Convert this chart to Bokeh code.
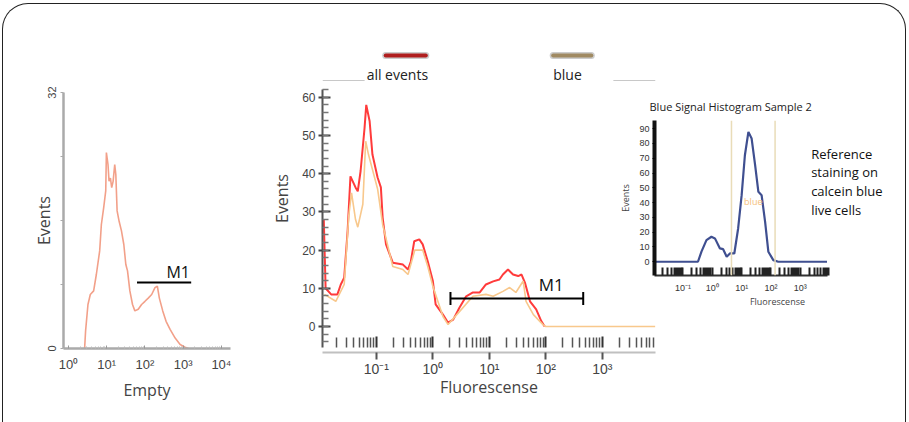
from bokeh.plotting import figure
from bokeh.layouts import row
from bokeh.models import (Range1d, LinearScale, LogAxis, FixedTicker, SingleIntervalTicker, Span,
                          GlobalInlineStyleSheet)
from bokeh.embed import file_html
from bokeh.resources import INLINE
from bokeh.core.properties import value

# ---------------- data ----------------
# left panel "Empty" histogram
empty_x = [2.64, 2.80, 3.23, 3.72, 4.55, 5.35, 6.54, 7.24, 8.33, 9.42, 9.8, 10.8, 11.5, 12.5, 13.5,
           14.7, 16.2, 17.3, 18.7, 21.1, 24.3, 28, 31.6, 35, 40.3, 47.3, 54.5, 66.7, 81.7, 100,
           122, 150, 183, 211, 238, 292, 357, 455, 617, 832, 1122, 1380]
empty_y = [0, 2.2, 5.5, 6.75, 7.2, 9.25, 12.2, 15.5, 17.6, 19.7, 24.5, 23, 20.9, 21.3, 20.1,
           20.9, 23, 21.75, 17.2, 15.9, 14.7, 13, 10.5, 9.7, 7.2, 5.5, 4.7, 4.9, 5.5, 5.9,
           6.3, 6.75, 7.6, 7.8, 6.3, 4.7, 3.4, 2.4, 1.3, 0.5, 0.15, 0]
empty_m1_x = [62, 1620]
empty_m1_y = 8.25
empty_m1_label_x = 740

# middle panel: "all events" and "blue"
all_x = [0.0117, 0.0126, 0.0158, 0.0204, 0.0234, 0.0269, 0.0309, 0.0347, 0.0427, 0.0468,
         0.0525, 0.0617, 0.0661, 0.0759, 0.0851, 0.105, 0.120, 0.129, 0.148, 0.195, 0.295,
         0.363, 0.407, 0.468, 0.575, 0.661, 0.813, 1.0, 1.12, 1.51, 1.86, 2.29, 2.95, 3.89,
         5.13, 6.76, 8.71, 11.7, 15.1, 17.4, 21.4, 26.3, 32.4, 37.2, 42.7, 52.5, 67.6, 83.2, 95.5]
all_y = [28, 10, 8.4, 8.4, 11, 12.8, 25, 39.3, 36.4, 35.4, 40.7, 52, 58, 53.7, 45, 39, 36.4,
         28.5, 21.5, 16.7, 16.2, 14.9, 17, 22.3, 22.8, 21.5, 17, 11.9, 5.8, 3.1, 1, 1.8, 4.9,
         7.9, 8.9, 8.9, 11, 11.8, 12.3, 13.6, 14.9, 13.6, 13.2, 13.6, 11.5, 6.6, 4.5, 1.4, 0]
blue_x = [0.0120, 0.0191, 0.0269, 0.0324, 0.0363, 0.0427, 0.0468, 0.0575, 0.0646, 0.0724,
          0.105, 0.129, 0.195, 0.295, 0.363, 0.479, 0.661, 0.813, 1.0, 1.51, 1.86, 2.88, 5.13,
          8.71, 11.7, 17.4, 22.9, 29.5, 39.8, 44.7, 60.3, 89.1, 100, 8700]
blue_y = [8.4, 6.6, 11, 29, 35, 28, 26, 32, 48.5, 45, 36, 26.7, 15.7, 14.9, 13.6, 20, 20, 15.7,
          10.5, 2.6, 0.5, 3.7, 7.9, 8.4, 7.9, 9.2, 10.2, 8.9, 11.9, 6.6, 3.1, 0.5, 0, 0]
mid_m1_x = [2.05, 460]
mid_m1_y = 7.3
mid_m1_label_x = 125
series_names = ["all events", "blue"]
series_colors = ["#ff3b3b", "#f8c88c"]
swatch_colors = ["#b01e1e", "#a08a62"]

# inset: blue signal histogram sample 2
ref_x = [0.0107, 0.324, 0.427, 0.631, 0.933, 1.23, 1.82, 2.34, 3.09, 3.98, 5.62, 7.59, 10.0,
         12.9, 17.0, 21.9, 28.8, 37.2, 47.9, 63.1, 81.3, 120, 178, 8130]
ref_y = [0, 0, 6.8, 14.6, 16.9, 15.8, 9, 8.5, 3.4, 5.6, 5.6, 22.5, 45, 72, 87.8, 83.3, 65.3,
         47.3, 45, 27, 6.8, 1.1, 0, 0]
ref_gate = [4.5, 138]
ref_gate_label = "blue"

decades_left = [1, 10, 100, 1000, 10000]
decades_mid = [0.1, 1, 10, 100, 1000]
sup = {0.1: "10\u207b\u00b9", 1: "10\u2070", 10: "10\u00b9", 100: "10\u00b2", 1000: "10\u00b3",
       10000: "10\u2074"}

FONT = "Open Sans"
NUM = "Liberation Sans"


def minors(decs):
    out = []
    for d in decs:
        for k in range(2, 10):
            out.append(d * k)
    return out


def clean(p):
    p.xgrid.visible = False
    p.ygrid.visible = False
    p.outline_line_color = None
    for ax in p.axis:
        ax.axis_label_text_font = FONT
        ax.axis_label_text_font_style = "normal"
        ax.major_label_text_font = NUM


# ---------------- left panel ----------------
p1 = figure(x_axis_type="log", x_range=Range1d(0.74, 17300), y_range=Range1d(0, 32),
            frame_width=166, frame_height=256, min_border_left=44, min_border_right=20,
            min_border_top=26, min_border_bottom=64, output_backend="svg",
            toolbar_location=None, margin=(57, 0, 0, 16), align="start")
clean(p1)
p1.line(empty_x, empty_y, line_color="#f08f74", line_width=1.6, line_alpha=0.85)
p1.line(empty_m1_x, [empty_m1_y, empty_m1_y], line_color="black", line_width=2)
p1.text(x=[empty_m1_label_x], y=[empty_m1_y], text=["M1"], text_align="center",
        text_baseline="bottom", text_font=value(FONT), text_font_size="16px", text_color="#111")

p1.yaxis.ticker = FixedTicker(ticks=[0, 8, 16, 24, 32])
p1.yaxis.major_label_overrides = {8: "", 16: "", 24: ""}
p1.yaxis.major_label_orientation = "vertical"
p1.yaxis.axis_label = "Events"
p1.yaxis.axis_label_text_font_size = "16px"
p1.yaxis.axis_label_standoff = -10
p1.yaxis.major_label_text_font_size = "11px"
p1.yaxis.axis_line_color = "#aaaaaa"
p1.yaxis.axis_line_width = 2.5
p1.yaxis.major_tick_line_color = "#aaaaaa"
p1.yaxis.major_tick_out = 3
p1.yaxis.major_tick_in = 0
p1.yaxis.minor_tick_line_color = None

p1.xaxis.ticker = FixedTicker(ticks=decades_left, minor_ticks=minors([1, 10, 100, 1000]))
p1.xaxis.major_label_overrides = {k: sup[k] for k in decades_left}
p1.xaxis.major_label_text_font_size = "13px"
p1.xaxis.axis_label = "Empty"
p1.xaxis.axis_label_text_font_size = "16px"
p1.xaxis.axis_label_standoff = 4
p1.xaxis.axis_line_color = "#aaaaaa"
p1.xaxis.axis_line_width = 2.5
p1.xaxis.major_tick_in = 3
p1.xaxis.major_tick_out = 0
p1.xaxis.minor_tick_in = 2
p1.xaxis.minor_tick_out = 0
p1.xaxis.major_tick_line_color = "#999999"
p1.xaxis.minor_tick_line_color = "#bbbbbb"
p1.xaxis.major_label_standoff = 8

# ---------------- middle panel ----------------
p2 = figure(x_axis_type="log", x_range=Range1d(0.0111, 8770), y_range=Range1d(-5.5, 72.5),
            frame_width=332, frame_height=298, min_border_left=52, min_border_right=5,
            min_border_top=26, min_border_bottom=64, output_backend="svg",
            toolbar_location=None, margin=(14, 0, 0, 18), align="start")
p2.extra_x_ranges = {"px": Range1d(320, 652)}
p2.extra_y_ranges = {"py": Range1d(343, 45)}
p2.extra_x_scales = {"px": LinearScale()}
p2.extra_y_scales = {"py": LinearScale()}

p2.line(all_x, all_y, line_color=series_colors[0], line_width=2)
p2.line(blue_x, blue_y, line_color=series_colors[1], line_width=1.6)
p2.line(mid_m1_x, [mid_m1_y, mid_m1_y], line_color="black", line_width=2)
p2.segment(x0=mid_m1_x, y0=[mid_m1_y - 1.7] * 2, x1=mid_m1_x, y1=[mid_m1_y + 1.7] * 2,
           line_color="black", line_width=2)
p2.text(x=[mid_m1_label_x], y=[mid_m1_y + 0.6], text=["M1"], text_align="center",
        text_baseline="bottom", text_font=value(FONT), text_font_size="17px", text_color="#111")

# legend decoration (page-pixel helper ranges)
p2.segment(x0=[383, 550], y0=[51, 51], x1=[423, 588], y1=[51, 51], line_color="#cccccc",
           line_width=7, line_cap="round", x_range_name="px", y_range_name="py")
p2.segment(x0=[383, 550], y0=[51, 51], x1=[423, 588], y1=[51, 51], line_color=swatch_colors,
           line_width=4, line_cap="round", x_range_name="px", y_range_name="py")
p2.text(x=[364, 550], y=[70, 70], text=series_names, text_baseline="middle",
        text_font=value(FONT), text_font_size="14px", text_color="#222",
        x_range_name="px", y_range_name="py")
p2.segment(x0=[320, 610], y0=[76, 76], x1=[362, 652], y1=[76, 76], line_color="#c8c8c8",
           line_width=1, x_range_name="px", y_range_name="py")

p2.yaxis.ticker = SingleIntervalTicker(interval=10, num_minor_ticks=5)
p2.yaxis.bounds = (-5.5, 62)
p2.yaxis.axis_label = "Events"
p2.yaxis.axis_label_text_font_size = "16px"
p2.yaxis.axis_label_standoff = 6
p2.yaxis.major_label_text_font_size = "12px"
p2.yaxis.axis_line_color = "#555555"
p2.yaxis.axis_line_width = 2
p2.yaxis.major_tick_in = 8
p2.yaxis.major_tick_out = 4
p2.yaxis.minor_tick_in = 6
p2.yaxis.minor_tick_out = 0
p2.yaxis.major_tick_line_color = "#444444"
p2.yaxis.minor_tick_line_color = "#777777"
p2.yaxis.major_tick_line_width = 2
p2.yaxis.minor_tick_line_width = 1.5
p2.yaxis.major_label_standoff = 3

# rug of log ticks (no labels)
p2.xaxis.ticker = FixedTicker(ticks=decades_mid, minor_ticks=minors([0.01, 0.1, 1, 10, 100, 1000]))
p2.xaxis.axis_line_color = None
p2.xaxis.major_tick_in = 11
p2.xaxis.major_tick_out = 0
p2.xaxis.minor_tick_in = 10
p2.xaxis.minor_tick_out = 0
p2.xaxis.major_tick_line_color = "#333333"
p2.xaxis.minor_tick_line_color = "#555555"
p2.xaxis.major_tick_line_width = 2
p2.xaxis.minor_tick_line_width = 1.5
p2.xaxis.major_label_overrides = {k: " " for k in decades_mid}
p2.xaxis.major_label_text_font_size = "2px"
p2.xaxis.major_label_standoff = 0

xax2 = LogAxis(ticker=FixedTicker(ticks=decades_mid, minor_ticks=[]))
xax2.major_label_overrides = {k: sup[k] for k in decades_mid}
xax2.major_tick_out = 7
xax2.major_tick_in = 0
xax2.minor_tick_in = 0
xax2.minor_tick_out = 0
xax2.axis_line_color = "#c0c0c0"
xax2.axis_line_width = 2
xax2.major_tick_line_color = "#555555"
xax2.major_tick_line_width = 2
xax2.major_label_standoff = 1
xax2.major_label_text_font_size = "14px"
xax2.axis_label = "Fluorescense"
xax2.axis_label_text_font_size = "16px"
xax2.axis_label_standoff = -4
p2.add_layout(xax2, "below")
clean(p2)

# ---------------- inset ----------------
p3 = figure(x_axis_type="log", x_range=Range1d(0.0107, 2.6e6), y_range=Range1d(-9.3, 95.5),
            frame_width=245, frame_height=155, min_border_left=38, min_border_right=5,
            min_border_top=27, min_border_bottom=38, output_backend="svg",
            toolbar_location=None, margin=(85, 0, 0, -45), align="start",
            title="Blue Signal Histogram Sample 2")
p3.background_fill_alpha = 0
p3.border_fill_alpha = 0
p3.title.text_font = FONT
p3.title.text_font_style = "normal"
p3.title.text_font_size = "11px"
p3.title.text_color = "#222"
p3.title.align = "left"
p3.title.offset = -5
p3.title.standoff = 14
p3.extra_x_ranges = {"px": Range1d(650, 895)}
p3.extra_y_ranges = {"py": Range1d(272, 117)}
p3.extra_x_scales = {"px": LinearScale()}
p3.extra_y_scales = {"py": LinearScale()}

for g in ref_gate:
    p3.add_layout(Span(location=g, dimension="height", line_color="#e9dcb8", line_width=1.5))
p3.line(ref_x, ref_y, line_color="#3f4f90", line_width=2.2)
p3.text(x=[(ref_gate[0] * ref_gate[1]) ** 0.5], y=[41], text=[ref_gate_label],
        text_align="center", text_baseline="middle", text_font=value(FONT),
        text_font_size="9px", text_color="#f5c07a")
p3.text(x=[806], y=[141], text=["Reference\nstaining on\ncalcein blue\nlive cells"],
        text_baseline="top", text_font=value(FONT), text_font_size="13px",
        text_line_height=1.05, text_color="#111", x_range_name="px", y_range_name="py")

p3.yaxis.ticker = SingleIntervalTicker(interval=10, num_minor_ticks=0)
p3.yaxis.axis_label = "Events"
p3.yaxis.axis_label_text_font_size = "9px"
p3.yaxis.axis_label_standoff = 4
p3.yaxis.major_label_text_font_size = "9px"
p3.yaxis.major_label_text_color = "#333"
p3.yaxis.axis_line_color = "#111111"
p3.yaxis.axis_line_width = 4
p3.yaxis.major_tick_out = 2
p3.yaxis.major_tick_in = 0
p3.yaxis.major_label_standoff = 3

p3.xaxis.ticker = FixedTicker(ticks=decades_mid, minor_ticks=minors([0.01, 0.1, 1, 10, 100, 1000]))
p3.xaxis.bounds = (0.0107, 8130)
p3.xaxis.major_label_overrides = {k: sup[k] for k in decades_mid}
p3.xaxis.major_label_text_font_size = "9px"
p3.xaxis.major_label_text_color = "#333"
p3.xaxis.major_label_standoff = 7
p3.xaxis.axis_label = "Fluorescense"
p3.xaxis.axis_label_text_font_size = "9px"
p3.xaxis.axis_label_standoff = -1
p3.xaxis.axis_line_color = "#333333"
p3.xaxis.axis_line_width = 2
p3.xaxis.major_tick_in = 8
p3.xaxis.major_tick_out = 0
p3.xaxis.minor_tick_in = 8
p3.xaxis.minor_tick_out = 0
p3.xaxis.major_tick_line_color = "#222222"
p3.xaxis.minor_tick_line_color = "#222222"
p3.xaxis.major_tick_line_width = 2
p3.xaxis.minor_tick_line_width = 2
clean(p3)

page_css = GlobalInlineStyleSheet(
    css="html, body { margin: 0; padding: 0; overflow: hidden; background: white; }")
layout = row(p1, p2, p3, width=900, height=419, margin=(3, 0, 0, 2), sizing_mode="fixed",
             stylesheets=[page_css],
             styles={"box-sizing": "border-box", "width": "904px",
                     "border-top": "1.5px solid #222", "border-left": "1.5px solid #222",
                     "border-right": "1.5px solid #222",
                     "border-radius": "26px 26px 0 0", "background": "white",
                     "overflow": "hidden"})

open("out.html", "w").write(file_html(layout, INLINE))
